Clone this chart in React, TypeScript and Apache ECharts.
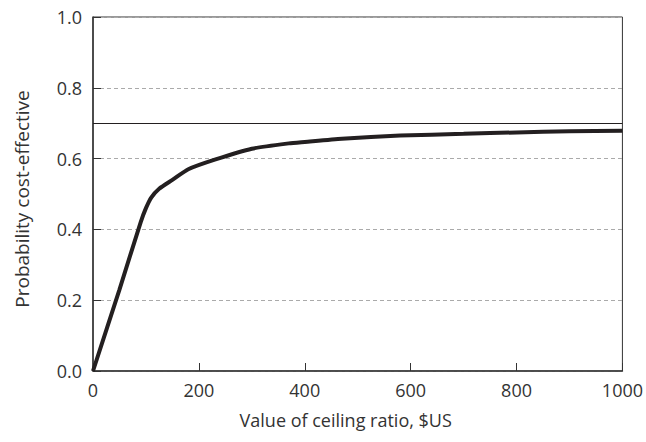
import React, { useEffect, useRef } from "react";
import * as echarts from "echarts";

const ceilingRatio = [0, 50, 90, 100, 110, 125, 150, 180, 230, 300, 370, 400, 470, 580, 700, 800, 900, 1000];
const probCostEffective = [0, 0.23, 0.42, 0.46, 0.49, 0.515, 0.54, 0.57, 0.597, 0.628, 0.643, 0.647, 0.656, 0.665, 0.67, 0.674, 0.677, 0.679];
const thresholdLine = 0.7;
const xTitle = "Value of ceiling ratio, $US";
const yTitle = "Probability cost-effective";

export default function App() {
  const ref = useRef<HTMLDivElement>(null);
  useEffect(() => {
    if (!ref.current) return;
    const chart = echarts.init(ref.current, null, { renderer: "svg" });
    const font = "'Open Sans', 'Noto Sans', sans-serif";
    const textColor = "#333";
    chart.setOption({
      animation: false,
      backgroundColor: "#fff",
      grid: {
        left: 93,
        right: 23,
        top: 17,
        bottom: 71,
        show: true,
        borderColor: "#333",
        borderWidth: 1,
        containLabel: false,
      },
      xAxis: {
        type: "value",
        min: 0,
        max: 1000,
        interval: 200,
        name: xTitle,
        nameLocation: "middle",
        nameGap: 40,
        nameTextStyle: { fontFamily: font, fontSize: 18, color: textColor, padding: [0, 24, 0, 0] },
        axisLine: { show: true, lineStyle: { color: "#333", width: 1.5 } },
        axisTick: { show: true, inside: true, length: 8, lineStyle: { color: "#333", width: 1 } },
        axisLabel: {
          fontFamily: font,
          fontSize: 18,
          color: textColor,
          margin: 10,
          formatter: (v: number) => String(v),
        },
        splitLine: { show: false },
      },
      yAxis: {
        type: "value",
        min: 0,
        max: 1,
        interval: 0.2,
        name: yTitle,
        nameLocation: "middle",
        nameGap: 62,
        nameTextStyle: { fontFamily: font, fontSize: 19, color: textColor, padding: [0, 10, 0, 0] },
        axisLine: { show: true, lineStyle: { color: "#333", width: 1.5 } },
        axisTick: { show: true, inside: true, length: 8, lineStyle: { color: "#333", width: 1 } },
        axisLabel: {
          fontFamily: font,
          fontSize: 18,
          color: textColor,
          margin: 11,
          formatter: (v: number) => v.toFixed(1),
        },
        splitLine: { show: true, lineStyle: { color: "#aaa", type: [4, 3], width: 1 } },
      },
      series: [
        {
          type: "line",
          data: ceilingRatio.map((x, i) => [x, probCostEffective[i]]),
          showSymbol: false,
          symbol: "none",
          smooth: 0.2,
          lineStyle: { color: "#231f20", width: 4 },
          silent: true,
          markLine: {
            silent: true,
            symbol: "none",
            label: { show: false },
            lineStyle: { color: "#231f20", width: 1.2, type: "solid" },
            data: [{ yAxis: thresholdLine }],
          },
        },
      ],
    });
    return () => chart.dispose();
  }, []);
  return (
    <div
      ref={ref}
      style={{ position: "fixed", left: 0, top: 0, width: 646, height: 442 }}
    />
  );
}
